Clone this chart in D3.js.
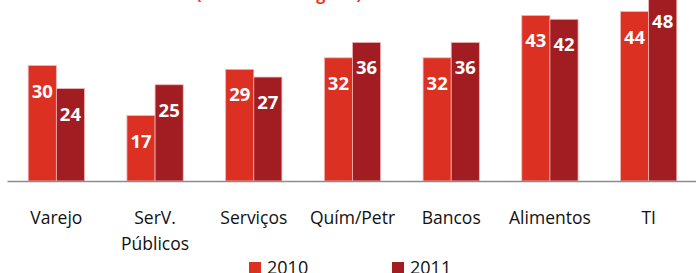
<!DOCTYPE html>
<html>
<head>
<meta charset="utf-8">
<script src="https://cdn.jsdelivr.net/npm/d3@7"></script>
<style>
  body { margin: 0; background: #fff; }
  svg { display: block; font-family: "Open Sans", sans-serif; }
</style>
</head>
<body>
<div id="chart"></div>
<script>
// Data
const categories = ["Varejo", "SerV. Públicos", "Serviços", "Quím/Petr", "Bancos", "Alimentos", "TI"];
const years = ["2010", "2011"];
const values2010 = [30, 17, 29, 32, 32, 43, 44];
const values2011 = [24, 25, 27, 36, 36, 42, 48];
const titleText = "(em % do total geral)";

const colors = { "2010": "#dc3122", "2011": "#a21d21" };

const dataset = categories.map((c, i) => ({
  category: c,
  values: [
    { year: "2010", value: values2010[i] },
    { year: "2011", value: values2011[i] }
  ]
}));

// Dimensions
const width = 696;
const height = 273;
const axisY = 181;

const svg = d3
  .select("#chart")
  .append("svg")
  .attr("width", width)
  .attr("height", height);

// Scales
const x0 = d3
  .scaleBand()
  .domain(categories)
  .range([7, 698])
  .paddingInner(0.43)
  .paddingOuter(0.215);

const x1 = d3.scaleBand().domain(years).range([0, x0.bandwidth()]);

const yScale = d3.scaleLinear().domain([0, 50]).range([axisY, axisY - 50 * 3.85]);

// Title (cut off at the top edge)
svg
  .append("text")
  .attr("x", 279)
  .attr("y", 0)
  .attr("text-anchor", "middle")
  .attr("font-size", 16)
  .attr("font-weight", "bold")
  .attr("fill", "#e8352b")
  .text(titleText);

// Bars
const groups = svg
  .selectAll(".group")
  .data(dataset)
  .enter()
  .append("g")
  .attr("class", "group")
  .attr("transform", (d) => `translate(${x0(d.category)},0)`);

groups
  .selectAll("rect")
  .data((d) => d.values)
  .enter()
  .append("rect")
  .attr("x", (d) => x1(d.year))
  .attr("y", (d) => yScale(d.value))
  .attr("width", x1.bandwidth())
  .attr("height", (d) => axisY - yScale(d.value))
  .attr("fill", (d) => colors[d.year])
  .attr("stroke", "#f0b4b4")
  .attr("stroke-width", 0.8);

// Value labels
groups
  .selectAll(".label")
  .data((d) => d.values)
  .enter()
  .append("text")
  .attr("class", "label")
  .attr("x", (d) => x1(d.year) + x1.bandwidth() / 2)
  .attr("y", (d) => yScale(d.value) + 32)
  .attr("text-anchor", "middle")
  .attr("font-size", 18.5)
  .attr("font-weight", "bold")
  .attr("fill", "#fff")
  .text((d) => d.value);

// X axis
const xAxis = d3.axisBottom(x0).tickSize(0).tickSizeOuter(0);

const axisG = svg
  .append("g")
  .attr("transform", `translate(0,${axisY})`)
  .call(xAxis);

axisG.select(".domain").attr("stroke", "#8c8c8c").attr("stroke-width", 1.6);

axisG
  .selectAll(".tick text")
  .attr("font-family", "'Open Sans', sans-serif")
  .attr("font-size", 17.5)
  .attr("fill", "#111")
  .attr("y", 0)
  .attr("dy", null)
  .each(function (d) {
    const words = d.split(" ");
    const t = d3.select(this).text(null);
    words.forEach((w, i) => {
      t.append("tspan")
        .attr("x", 0)
        .attr("y", 43 + i * 26)
        .text(w);
    });
  });

// Legend
const legend = svg
  .selectAll(".legend")
  .data(years)
  .enter()
  .append("g")
  .attr("class", "legend")
  .attr("transform", (d, i) => `translate(${249 + i * 143},0)`);

legend
  .append("rect")
  .attr("x", 0)
  .attr("y", 262)
  .attr("width", 12)
  .attr("height", 12)
  .attr("fill", (d) => colors[d]);

legend
  .append("text")
  .attr("x", 18)
  .attr("y", 274)
  .attr("font-size", 18)
  .attr("fill", "#111")
  .text((d) => d);
</script>
</body>
</html>
